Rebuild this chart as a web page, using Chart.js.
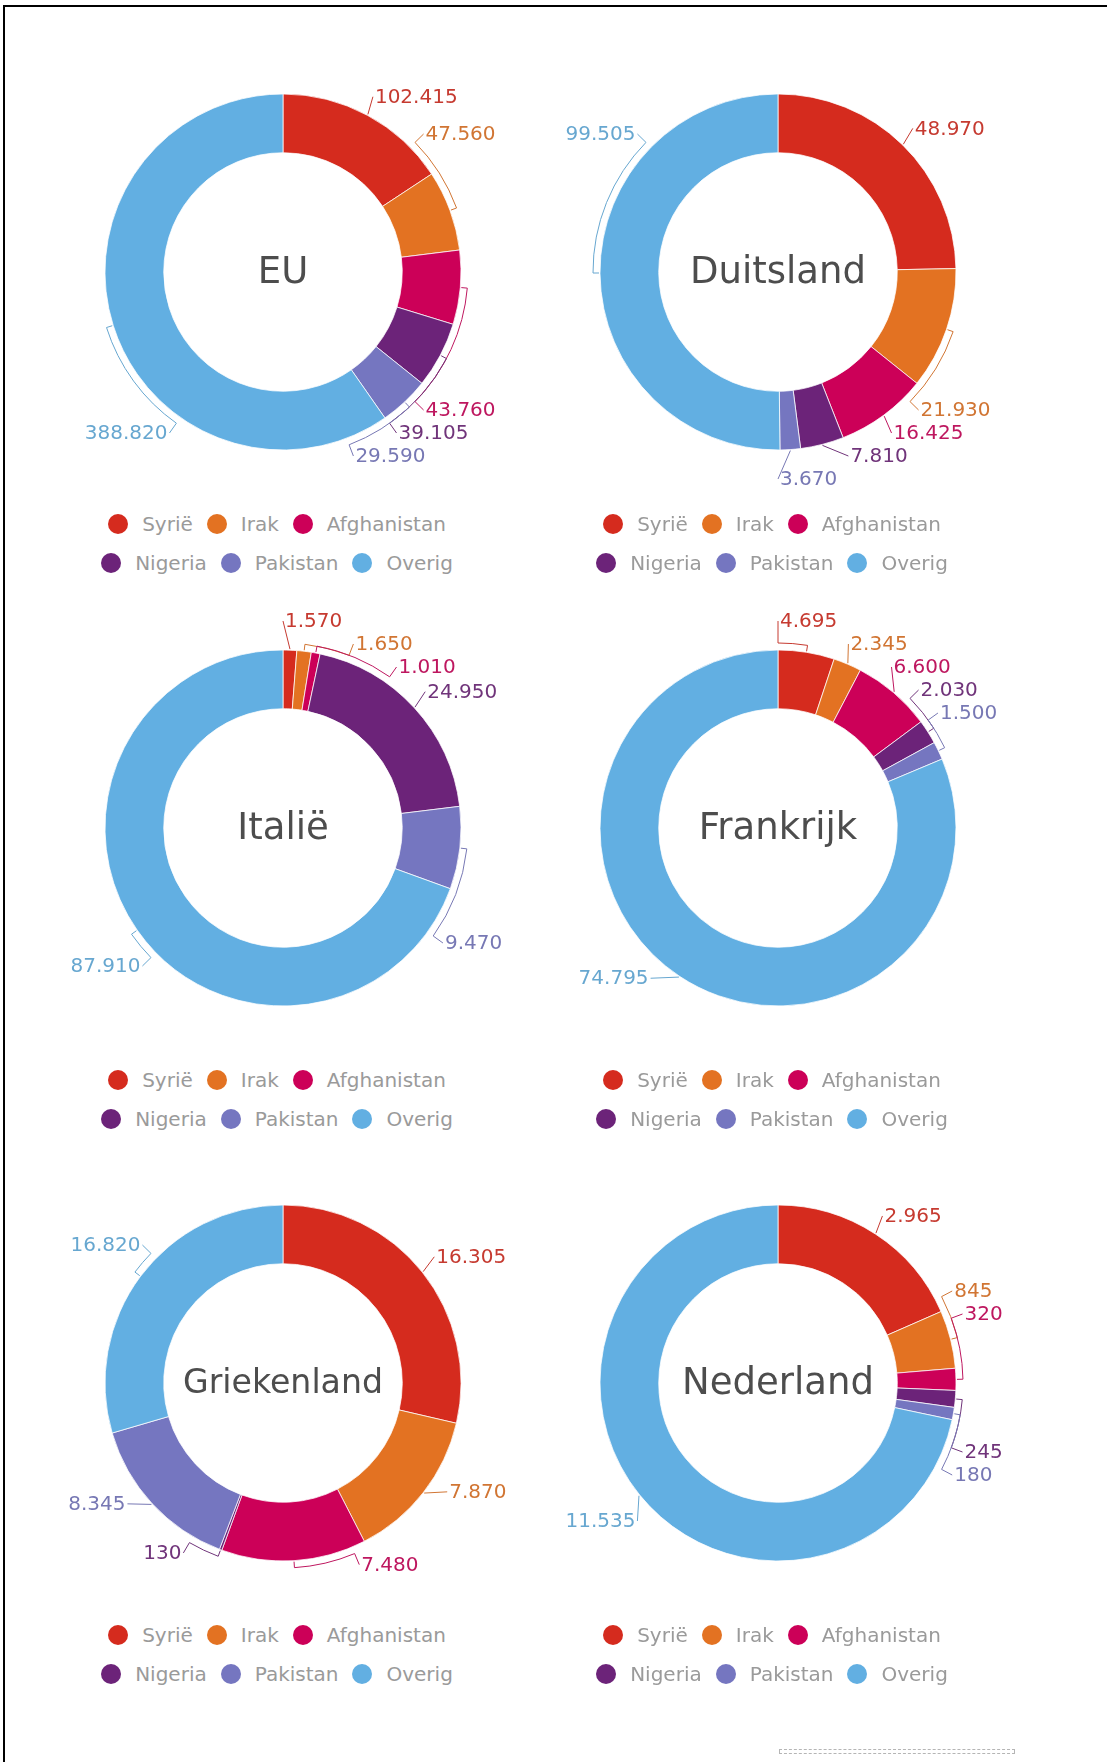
<!DOCTYPE html>
<html>
<head>
<meta charset="utf-8">
<script src="https://cdn.jsdelivr.net/npm/chart.js@4.4.1/dist/chart.umd.min.js"></script>
<style>
  html, body { margin: 0; padding: 0; background: #fff; }
  body { width: 1107px; height: 1762px; overflow: hidden; position: relative; font-family: "DejaVu Sans", Verdana, sans-serif; }
  #frame { position: absolute; left: 3px; top: 5px; width: 1300px; height: 1900px; border-left: 2px solid #000; border-top: 2px solid #000; }
  canvas { position: absolute; }
  .legend { position: absolute; width: 496px; }
  .legend-row { position: absolute; left: 0; width: 484px; padding-right: 12px; height: 20px; display: flex; justify-content: center; align-items: center; }
  .legend-row span.dot { display: inline-block; width: 20px; height: 20px; border-radius: 50%; margin-right: 14px; }
  .legend-row span.txt { font-size: 20px; line-height: 20px; color: #9a9a9a; margin-right: 14px; white-space: nowrap; }
  .legend-row span.txt:last-child { margin-right: 0; }
  #scroll { position: absolute; left: 779px; top: 1749px; width: 234px; height: 3px; border: 1px dashed #b5b5b5; }
</style>
</head>
<body>
<div id="frame"></div>
<div id="scroll"></div>
<script>
// categorieën en kleuren
const categories = ['Syrië', 'Irak', 'Afghanistan', 'Nigeria', 'Pakistan', 'Overig'];
const colors = ['#d52b1e', '#e37222', '#cc0058', '#6c2379', '#7576c0', '#62afe2'];

// aantallen per land (zelfde volgorde als categories)
const euValues = [102415, 47560, 43760, 39105, 29590, 388820];
const duitslandValues = [48970, 21930, 16425, 7810, 3670, 99505];
const italieValues = [1570, 1650, 1010, 24950, 9470, 87910];
const frankrijkValues = [4695, 2345, 6600, 2030, 1500, 74795];
const griekenlandValues = [16305, 7870, 7480, 130, 8345, 16820];
const nederlandValues = [2965, 845, 320, 245, 180, 11535];

const regions = ['EU', 'Duitsland', 'Italië', 'Frankrijk', 'Griekenland', 'Nederland'];
const regionValues = [euValues, duitslandValues, italieValues, frankrijkValues, griekenlandValues, nederlandValues];

const colX = [283, 778];
const rowY = [272, 828, 1383];
const STEP = 23; // afstand tussen labels

const fmt = (v) => String(v).replace(/\B(?=(\d{3})+(?!\d))/g, '.');

// labelkleur: iets gedempte versie van de taartkleur
function mute(hex) {
  const n = parseInt(hex.slice(1), 16);
  const c = [(n >> 16) & 255, (n >> 8) & 255, n & 255].map((v) => Math.round(v * 0.82 + 128 * 0.18));
  return 'rgb(' + c.join(',') + ')';
}

// waardelabels buiten de ring, met verbindingslijnen
const valueLabels = {
  id: 'valueLabels',
  afterDatasetsDraw(chart) {
    const ctx = chart.ctx;
    const ds = chart.data.datasets[0];
    const meta = chart.getDatasetMeta(0);
    ctx.save();
    ctx.font = '20px "DejaVu Sans"';

    const items = meta.data.map((arc, i) => {
      const p = arc.getProps(['x', 'y', 'startAngle', 'endAngle', 'outerRadius'], true);
      const mid = (p.startAngle + p.endAngle) / 2;
      const R = p.outerRadius + 19;
      const text = fmt(ds.data[i]);
      const w = ctx.measureText(text).width;
      const right = Math.cos(mid) >= 0;
      const reach = p.outerRadius + (right ? 48 : 43);
      const raw = (p.outerRadius + 12) * Math.sin(mid);
      let dy = raw - 8;
      const m = Math.sqrt(Math.max(0, R * R - Math.pow(reach - w, 2)));
      if (Math.abs(dy) < m) {
        const dir = raw < 5 ? -1 : 1;
        dy = dir * Math.ceil(m / STEP) * STEP;
      }
      return { i, x: p.x, y: p.y, mid, R, text, right, dy, raw, outer: p.outerRadius };
    });

    // botsingen oplossen per kant, in volgorde van de hoek
    [true, false].forEach((side) => {
      const lim = items[0].R + 10;
      const up = items.filter((d) => d.right === side && d.dy < 0).sort((a, b) => b.raw - a.raw);
      for (let k = 1; k < up.length; k++) up[k].dy = Math.min(up[k].dy, up[k - 1].dy - STEP);
      if (up.length && up[up.length - 1].dy < -lim) {
        up[up.length - 1].dy = -lim;
        for (let k = up.length - 2; k >= 0; k--) up[k].dy = Math.max(up[k].dy, up[k + 1].dy + STEP);
      }
      const down = items.filter((d) => d.right === side && d.dy >= 0).sort((a, b) => a.raw - b.raw);
      for (let k = 1; k < down.length; k++) down[k].dy = Math.max(down[k].dy, down[k - 1].dy + STEP);
      if (down.length && down[down.length - 1].dy > lim) {
        down[down.length - 1].dy = lim;
        for (let k = down.length - 2; k >= 0; k--) down[k].dy = Math.min(down[k].dy, down[k + 1].dy - STEP);
      }
    });

    items.forEach((d) => {
      const col = mute(ds.backgroundColor[d.i]);
      const ax = d.x + (d.right ? 1 : -1) * Math.sqrt(Math.max(0, d.R * d.R - d.dy * d.dy));
      const ay = d.y + d.dy;
      let aAng = Math.atan2(ay - d.y, ax - d.x);
      while (aAng - d.mid > Math.PI) aAng -= 2 * Math.PI;
      while (aAng - d.mid < -Math.PI) aAng += 2 * Math.PI;
      const r0 = d.outer + 1;
      const r1 = d.outer + 7;
      ctx.beginPath();
      ctx.moveTo(d.x + r0 * Math.cos(d.mid), d.y + r0 * Math.sin(d.mid));
      if (Math.abs(aAng - d.mid) > 0.12) {
        // label verschoven: eerst langs de ring, dan naar het label
        ctx.lineTo(d.x + r1 * Math.cos(d.mid), d.y + r1 * Math.sin(d.mid));
        ctx.arc(d.x, d.y, r1, d.mid, aAng, aAng < d.mid);
      }
      ctx.lineTo(ax, ay);
      ctx.strokeStyle = col;
      ctx.lineWidth = 1;
      ctx.stroke();

      ctx.fillStyle = col;
      ctx.textAlign = d.right ? 'left' : 'right';
      ctx.textBaseline = 'middle';
      ctx.fillText(d.text, ax + (d.right ? 2 : -2), ay + 1);
    });
    ctx.restore();
  }
};

// naam van het land in het midden
const centerText = {
  id: 'centerText',
  afterDraw(chart, args, opts) {
    const arc = chart.getDatasetMeta(0).data[0];
    if (!arc) return;
    const ctx = chart.ctx;
    let size = 37;
    ctx.save();
    ctx.font = size + 'px "DejaVu Sans"';
    const w = ctx.measureText(opts.text).width;
    if (w > 200) {
      size = size * 200 / w;
      ctx.font = size + 'px "DejaVu Sans"';
    }
    ctx.fillStyle = '#4d4d4d';
    ctx.textAlign = 'center';
    ctx.textBaseline = 'alphabetic';
    ctx.fillText(opts.text, arc.x, arc.y + size * 0.3);
    ctx.restore();
  }
};

function makeLegend(left, top) {
  const box = document.createElement('div');
  box.className = 'legend';
  box.style.left = left + 'px';
  box.style.top = top + 'px';
  [[0, 1, 2], [3, 4, 5]].forEach((idx, r) => {
    const row = document.createElement('div');
    row.className = 'legend-row';
    row.style.top = (r * 39) + 'px';
    idx.forEach((i) => {
      const dot = document.createElement('span');
      dot.className = 'dot';
      dot.style.background = colors[i];
      const txt = document.createElement('span');
      txt.className = 'txt';
      txt.textContent = categories[i];
      row.appendChild(dot);
      row.appendChild(txt);
    });
    box.appendChild(row);
  });
  document.body.appendChild(box);
}

regions.forEach((name, k) => {
  const cx = colX[k % 2];
  const cy = rowY[Math.floor(k / 2)];
  const canvas = document.createElement('canvas');
  canvas.width = 496;
  canvas.height = 460;
  canvas.style.left = (cx - 248) + 'px';
  canvas.style.top = (cy - 230) + 'px';
  document.body.appendChild(canvas);

  new Chart(canvas.getContext('2d'), {
    type: 'doughnut',
    data: {
      labels: categories,
      datasets: [{
        data: regionValues[k],
        backgroundColor: colors,
        borderColor: 'rgba(255,255,255,0.75)',
        borderWidth: 1,
        radius: 178,
      }],
    },
    options: {
      responsive: false,
      animation: false,
      events: [],
      cutout: '67%',
      layout: { padding: 0 },
      plugins: {
        legend: { display: false },
        tooltip: { enabled: false },
        centerText: { text: name },
      },
    },
    plugins: [valueLabels, centerText],
  });

  makeLegend(cx - 248, cy + 242);
});
</script>
</body>
</html>
